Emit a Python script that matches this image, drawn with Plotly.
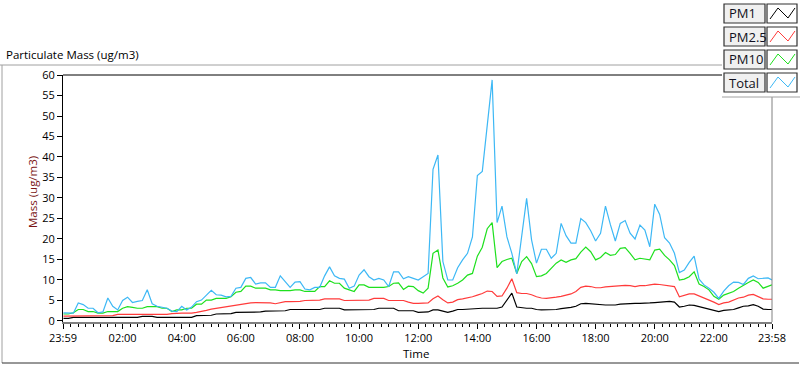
import plotly.graph_objects as go

# ---------------- data (10-minute samples, minutes from midnight) ----------------
minutes = list(range(0, 1440, 10)) + [1438]

pm1 = [0.65, 0.65, 0.9, 0.9, 0.9, 0.9,
       0.9, 0.9, 0.9, 0.9, 0.9, 0.9,
       0.9, 0.9, 0.9, 0.9, 1.1, 1.1,
       1.1, 0.9, 0.9, 0.9, 0.9, 0.9,
       0.9, 0.9, 0.9, 1.3, 1.3, 1.3,
       1.4, 1.7, 1.7, 1.7, 1.8, 2.1,
       2.1, 2.1, 2.1, 2.1, 2.2, 2.4,
       2.4, 2.4, 2.4, 2.5, 2.8, 2.8,
       2.8, 2.8, 2.8, 2.8, 2.8, 3.1,
       3.1, 3.1, 3.1, 2.7, 2.7, 2.8,
       2.8, 2.8, 2.8, 2.8, 3.1, 3.1,
       3.1, 3.1, 2.5, 2.5, 2.5, 2.5,
       2.1,
       2.1, 2.2, 2.7, 2.7, 2.4, 2.1,
       2.4, 2.8, 2.8, 2.9, 3.0, 3.1,
       3.1, 3.1, 3.1, 3.1, 3.4, 5.0,
       6.8, 3.4, 3.2, 3.1, 3.1, 2.8,
       2.7, 2.7, 2.7, 2.8, 3.0, 3.1,
       3.3, 3.6, 4.2, 4.3, 4.2, 4.0,
       3.9, 3.9, 3.9, 3.9, 4.1, 4.2,
       4.3, 4.3, 4.3, 4.3, 4.4, 4.5,
       4.6, 4.7, 4.8, 4.6, 3.4, 3.6,
       3.9, 3.8, 3.5, 3.1, 2.8, 2.6,
       2.3, 2.6, 2.7, 2.8, 3.2, 3.6,
       3.7, 4.0, 3.6, 2.9, 2.8,
       2.8]

pm25 = [1.2, 1.2, 1.2, 1.2, 1.3, 1.3,
        1.3, 1.3, 1.3, 1.3, 1.3, 1.6,
        1.6, 1.6, 1.6, 1.6, 1.6, 1.6,
        1.6, 1.6, 1.6, 1.6, 1.8, 1.9,
        1.9, 1.9, 1.9, 2.1, 2.3, 2.6,
        2.9, 3.1, 3.2, 3.4, 3.6, 3.8,
        4.0, 4.2, 4.4, 4.5, 4.5, 4.5,
        4.4, 4.2, 4.5, 4.7, 4.7, 4.7,
        4.8, 5.0, 5.0, 5.0, 5.1, 5.4,
        5.4, 5.4, 5.4, 5.0, 5.0, 5.1,
        5.1, 5.1, 5.1, 5.5, 5.5, 5.5,
        5.0, 5.0, 5.0, 5.0, 4.6, 4.3,
        4.3,
        4.3, 4.4, 5.4, 6.1, 5.2, 4.4,
        4.6, 5.2, 5.4, 5.6, 5.9, 6.3,
        6.7, 7.3, 7.2, 6.0, 6.1, 8.0,
        10.3, 6.9, 6.7, 6.7, 6.4, 5.9,
        5.6, 5.5, 5.6, 5.8, 6.0, 6.3,
        6.6, 7.2, 8.2, 8.5, 8.4, 8.1,
        8.1, 8.3, 8.4, 8.5, 8.6, 8.7,
        8.6, 8.4, 8.6, 8.6, 8.8, 9.0,
        8.9, 8.7, 8.5, 8.4, 5.9, 6.3,
        6.6, 6.6, 6.1, 5.6, 5.2, 4.6,
        4.0, 4.4, 4.6, 5.1, 5.6, 5.8,
        6.3, 6.5, 5.9, 5.4, 5.3,
        5.3]

pm10 = [1.7, 1.7, 2.0, 2.8, 2.8, 2.3,
        2.3, 1.9, 1.9, 2.3, 2.3, 2.3,
        3.1, 3.5, 3.3, 3.1, 3.1, 3.5,
        3.5, 3.5, 3.1, 3.1, 2.3, 2.7,
        2.7, 3.1, 3.1, 4.1, 4.1, 5.1,
        5.1, 5.5, 5.5, 5.5, 5.9, 7.0,
        7.2, 8.5, 8.5, 8.0, 8.0, 8.0,
        7.6, 7.6, 7.4, 7.4, 7.4, 7.6,
        7.6, 7.2, 7.2, 7.2, 8.4, 8.4,
        9.8, 9.2, 9.2, 8.0, 7.6, 7.2,
        8.8, 8.8, 8.2, 8.2, 8.2, 8.2,
        8.4, 9.2, 9.3, 7.7, 8.5, 8.4,
        7.4,
        6.8, 8.0, 16.5, 17.3, 10.5, 8.3,
        8.6, 9.2, 10.0, 11.2, 11.6, 15.8,
        18.0, 22.5, 24.0, 13.0, 14.5, 15.0,
        15.3, 11.6, 14.5, 15.7, 14.0, 10.8,
        11.0, 11.6, 12.8, 14.1, 14.9, 14.3,
        14.9, 15.2, 16.8, 18.0, 16.9, 14.9,
        15.5, 16.7, 16.0, 16.2, 17.7, 17.9,
        16.5, 14.9, 15.3, 15.1, 14.9, 17.3,
        17.5, 16.0, 14.9, 13.5, 10.0, 10.2,
        10.8, 12.0, 9.0, 8.4, 7.6, 6.0,
        5.3, 6.3, 6.7, 7.2, 8.0, 8.8,
        9.4, 10.0, 9.4, 8.0, 8.4,
        8.8]

total = [2.0, 2.0, 1.9, 4.4, 4.0, 3.1,
         3.1, 2.0, 2.2, 5.6, 3.6, 2.7,
         5.0, 5.8, 4.5, 4.8, 5.0, 7.6,
         4.2, 3.6, 3.4, 3.1, 2.4, 2.3,
         3.6, 2.7, 3.4, 4.7, 5.1, 6.3,
         7.5, 6.4, 6.3, 5.9, 6.0, 8.0,
         8.2, 10.4, 10.6, 9.0, 9.3, 9.3,
         8.2, 8.2, 11.0, 9.6, 8.2, 9.5,
         9.6, 7.8, 7.6, 8.2, 8.2, 11.0,
         13.2, 11.0, 10.4, 10.2, 8.0, 8.5,
         11.2, 12.5, 10.8, 10.0, 10.4, 10.0,
         8.4, 12.0, 12.0, 10.3, 10.8, 10.4,
         10.0,
         10.8, 11.6, 37.0, 40.5, 14.5, 10.0,
         10.0, 13.0, 14.9, 16.5, 20.5, 35.5,
         36.5, 47.0, 58.8, 24.0, 28.0, 20.5,
         16.5, 11.5, 20.6, 29.9, 19.8, 14.1,
         17.5, 17.5, 15.3, 16.5, 23.8, 20.8,
         19.0, 19.0, 25.0, 24.0, 22.0, 19.5,
         21.4, 28.0, 23.5, 19.5, 23.8, 24.5,
         21.4, 20.0, 23.4, 22.2, 18.1, 28.5,
         26.0, 20.3, 19.0, 16.5, 11.8, 12.4,
         14.3, 15.8, 10.2, 8.8, 8.0, 7.0,
         5.5, 7.3, 8.6, 9.5, 9.4, 8.9,
         10.4, 11.0, 10.3, 10.4, 10.5,
         10.0]

series_names = ["PM1", "PM2.5", "PM10", "Total"]
series_values = [pm1, pm25, pm10, total]
series_colors = ["#000000", "#ff3b3b", "#1ee01e", "#3db8f5"]

x_tick_vals = [-1, 120, 240, 360, 480, 600, 720, 840, 960, 1080, 1200, 1320, 1438]
x_tick_text = ["23:59", "02:00", "04:00", "06:00", "08:00", "10:00", "12:00",
               "14:00", "16:00", "18:00", "20:00", "22:00", "23:58"]
x_minor_vals = list(range(0, 1440, 15))
y_tick_vals = list(range(0, 61, 5))

# ---------------- layout geometry (pixels) ----------------
W_FIG, H_FIG = 800, 365
L, T, PW, PH = 63, 75, 709, 247
R = W_FIG - L - PW
B = H_FIG - T - PH


def X(px):
    return (px - L) / PW


def Y(py):
    return (T + PH - py) / PH


FONT = "Open Sans"

fig = go.Figure()
for name, vals, col in zip(series_names, series_values, series_colors):
    fig.add_trace(go.Scatter(x=minutes, y=vals, mode="lines", name=name,
                             line=dict(color=col, width=1.2), showlegend=False,
                             hoverinfo="skip"))

shapes = []
# outer frame
shapes.append(dict(type="line", xref="paper", yref="paper", x0=X(0), x1=X(722), y0=Y(65), y1=Y(65),
                   line=dict(color="#a0a0a0", width=1)))
shapes.append(dict(type="line", xref="paper", yref="paper", x0=X(2), x1=X(2), y0=Y(65), y1=Y(363),
                   line=dict(color="#a0a0a0", width=1)))
shapes.append(dict(type="line", xref="paper", yref="paper", x0=X(2), x1=X(799), y0=Y(363), y1=Y(363),
                   line=dict(color="#303030", width=1)))
# plot box top / right
shapes.append(dict(type="line", xref="paper", yref="paper", x0=0, x1=1, y0=1, y1=1,
                   line=dict(color="#000000", width=1)))
shapes.append(dict(type="line", xref="paper", yref="paper", x0=1, x1=1, y0=0, y1=1,
                   line=dict(color="#808080", width=1)))
# legend panel
shapes.append(dict(type="rect", xref="paper", yref="paper", x0=X(722), x1=X(800), y0=Y(0), y1=Y(97),
                   fillcolor="#ffffff", line=dict(width=0), layer="above"))
shapes.append(dict(type="line", xref="paper", yref="paper", x0=X(722), x1=X(800), y0=Y(97), y1=Y(97),
                   line=dict(color="#a0a0a0", width=1), layer="above"))

annotations = []
for i, (name, col) in enumerate(zip(series_names, series_colors)):
    y0 = 4 + 23 * i
    y1 = y0 + 19
    shapes.append(dict(type="rect", xref="paper", yref="paper", x0=X(724), x1=X(765), y0=Y(y0), y1=Y(y1),
                       fillcolor="#f0f0f0", line=dict(color="#303030", width=1.2), layer="above"))
    shapes.append(dict(type="rect", xref="paper", yref="paper", x0=X(767), x1=X(797), y0=Y(y0), y1=Y(y1),
                       fillcolor="#ffffff", line=dict(color="#303030", width=1.2), layer="above"))
    pts = [(770, y0 + 15), (778, y0 + 4), (788, y0 + 14), (795, y0 + 4)]
    path = "M " + " L ".join(f"{X(a):.5f},{Y(b):.5f}" for a, b in pts)
    shapes.append(dict(type="path", xref="paper", yref="paper", path=path,
                       line=dict(color=col, width=1), layer="above"))
    annotations.append(dict(xref="paper", yref="paper", x=X(727), y=Y(y0 + 9.5), text=name,
                            showarrow=False, xanchor="left", yanchor="middle",
                            font=dict(family=FONT, size=13, color="#101020")))

annotations.append(dict(xref="paper", yref="paper", x=X(4), y=Y(55), text="Particulate Mass (ug/m3)",
                        showarrow=False, xanchor="left", yanchor="middle",
                        font=dict(family=FONT, size=11.5, color="#000000")))
annotations.append(dict(xref="paper", yref="paper", x=X(32), y=Y(192), text="Mass (ug/m3)",
                        showarrow=False, textangle=-90, xanchor="center", yanchor="middle",
                        font=dict(family=FONT, size=11.5, color="#7a1414")))
annotations.append(dict(xref="paper", yref="paper", x=X(416), y=Y(353), text="Time",
                        showarrow=False, xanchor="center", yanchor="middle",
                        font=dict(family=FONT, size=11.5, color="#000000")))

fig.update_layout(
    width=W_FIG, height=H_FIG,
    margin=dict(l=L, r=R, t=T, b=B, pad=0),
    paper_bgcolor="#ffffff", plot_bgcolor="#ffffff",
    shapes=shapes, annotations=annotations,
    font=dict(family=FONT, size=11, color="#000000"),
    hovermode=False,
    xaxis=dict(range=[-1, 1438], tickmode="array", tickvals=x_tick_vals, ticktext=x_tick_text,
               ticks="outside", ticklen=5, tickwidth=1, tickcolor="#000000",
               minor=dict(tickmode="array", tickvals=x_minor_vals, ticks="outside", ticklen=3,
                          tickwidth=1, tickcolor="#000000", showgrid=False),
               showgrid=False, zeroline=False, showline=True, linecolor="#808080", linewidth=1.5,
               tickfont=dict(family=FONT, size=11, color="#000000")),
    yaxis=dict(range=[-0.25, 60], tickmode="array", tickvals=y_tick_vals,
               ticks="outside", ticklen=5, tickwidth=1, tickcolor="#000000",
               showgrid=False, zeroline=False, showline=True, linecolor="#000000", linewidth=1,
               tickfont=dict(family=FONT, size=11, color="#000000")),
)

fig.write_html("out.html", config={"displayModeBar": False},
               post_script="document.body.style.margin='0';document.body.style.overflow='hidden';")
